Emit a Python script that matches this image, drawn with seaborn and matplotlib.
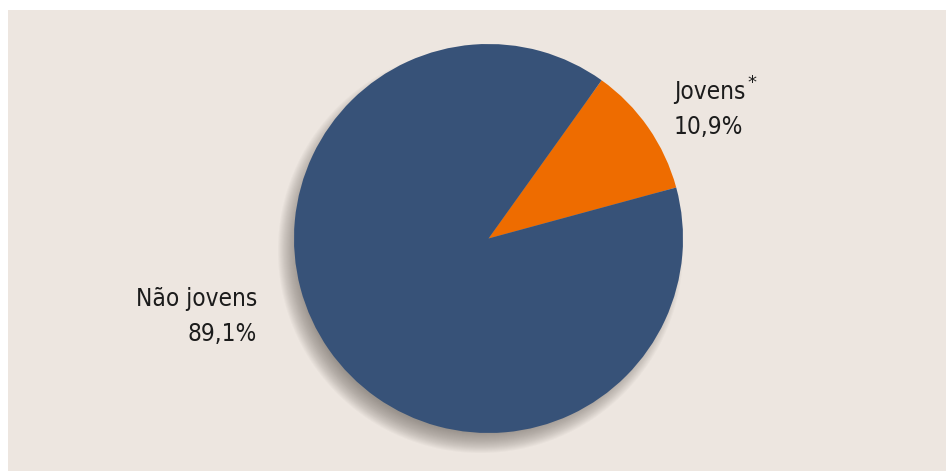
import matplotlib
matplotlib.use("Agg")
import matplotlib.pyplot as plt
import seaborn as sns
from matplotlib import font_manager
from matplotlib.patches import Rectangle, Circle

# Data
categories = ["Jovens", "Não jovens"]
values = [10.9, 89.1]
value_labels = ["10,9%", "89,1%"]
colors = ["#EE6C00", "#375278"]

sns.set_theme(style="white")
names = {f.name for f in font_manager.fontManager.ttflist}
fam = "Liberation Sans Narrow" if "Liberation Sans Narrow" in names else "DejaVu Sans"
plt.rcParams["font.family"] = [fam, "DejaVu Sans"]
stretch = "condensed"

W, H = 946, 471
fig = plt.figure(figsize=(W / 100, H / 100), dpi=100, facecolor="white")
ax = fig.add_axes([0, 0, 1, 1])
ax.set_xlim(0, W)
ax.set_ylim(0, H)
ax.set_aspect("equal")
ax.axis("off")

bg = "#EDE6E0"
ax.add_patch(Rectangle((8, 0), W - 8, H - 10, facecolor=bg, edgecolor="none", zorder=0))

cx, cy, R = 488.5, H - 238.5, 194.5

# soft shadow
sx, sy = cx - 8, cy - 12
n = 22
for i in range(n):
    r = R + 8 - i * 1.0
    ax.add_patch(Circle((sx, sy), r, facecolor="#6a645e", edgecolor="none",
                        alpha=0.04, zorder=1))

wedges, _ = ax.pie(values, colors=colors, startangle=15.2, counterclock=True,
                   center=(cx, cy), radius=R, frame=True,
                   wedgeprops=dict(linewidth=0, edgecolor="none"))
for w in wedges:
    w.set_zorder(2)
ax.set_xlim(0, W)
ax.set_ylim(0, H)
ax.axis("off")

tc = "#1c1c1c"
fs = 17.5
kw = dict(fontsize=fs, color=tc, fontstretch=stretch)
# Jovens label
t1 = ax.text(674, H - 99, categories[0], ha="left", va="baseline", **kw)
ax.text(674, H - 134, value_labels[0], ha="left", va="baseline", **kw)
# Não jovens label
ax.text(257, H - 306, categories[1], ha="right", va="baseline", **kw)
ax.text(257, H - 341, value_labels[1], ha="right", va="baseline", **kw)

fig.canvas.draw()
bb = t1.get_window_extent(renderer=fig.canvas.get_renderer())
x_ast = ax.transData.inverted().transform((bb.x1, 0))[0] + 2
ax.text(x_ast, H - 88, "*", ha="left", va="baseline", fontsize=13, color=tc)

fig.savefig("out.png", dpi=100, facecolor="white")
